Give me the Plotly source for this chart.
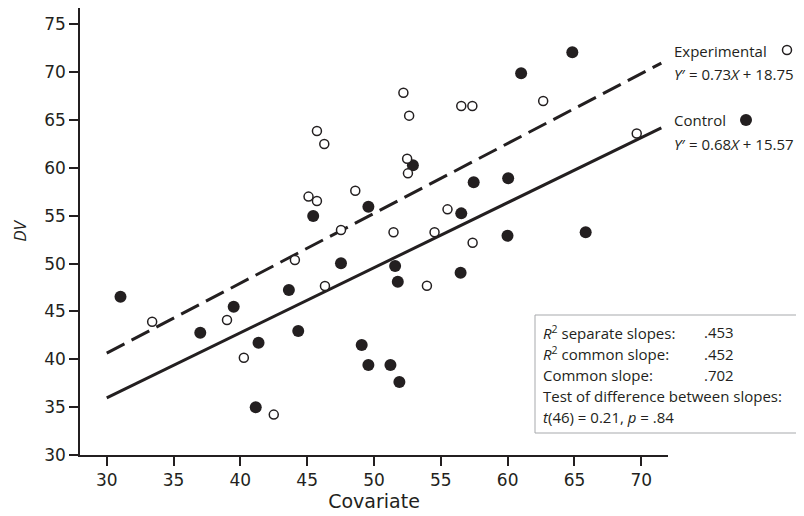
import plotly.graph_objects as go

# ---- data ----
exp_x = [45.73, 46.28, 45.10, 45.73, 44.08, 52.20, 52.63, 56.53, 57.36, 62.66,
         69.66, 52.48, 52.54, 48.60, 55.50, 47.53, 51.46, 54.53, 57.38, 46.33,
         33.40, 39.00, 40.26, 42.50, 53.96]
exp_y = [63.86, 62.50, 57.00, 56.54, 50.38, 67.86, 65.46, 66.47, 66.47, 66.99,
         63.60, 60.96, 59.43, 57.62, 55.67, 53.51, 53.27, 53.27, 52.18, 47.66,
         43.93, 44.10, 40.17, 34.22, 47.69]

ctl_x = [31.03, 45.45, 64.84, 61.01, 52.91, 57.46, 60.04, 49.58, 56.53, 59.99,
         65.84, 47.53, 51.58, 43.63, 39.50, 37.00, 44.33, 41.36, 41.15, 51.78,
         56.48, 49.08, 49.58, 51.23, 51.90]
ctl_y = [46.54, 54.97, 72.08, 69.88, 60.27, 58.50, 58.91, 55.95, 55.25, 52.92,
         53.27, 50.03, 49.75, 47.24, 45.50, 42.78, 42.96, 41.74, 34.98, 48.11,
         49.05, 41.49, 39.40, 39.40, 37.63]

# regression line end points
line_x = [30.0, 71.5]
exp_line_y = [40.65, 70.95]
ctl_line_y = [35.97, 64.19]

x_ticks = [30, 35, 40, 45, 50, 55, 60, 65, 70]
y_ticks = [30, 35, 40, 45, 50, 55, 60, 65, 70, 75]

stats_labels = ["<i>R</i><sup>2</sup> separate slopes:",
                "<i>R</i><sup>2</sup> common slope:",
                "Common slope:"]
stats_values = [".453", ".452", ".702"]
stats_extra = ["Test of difference between slopes:",
               "<i>t</i>(46) = 0.21, <i>p</i> = .84"]

INK = "#231f20"
TXT_FONT = "Open Sans"

fig = go.Figure()
fig.add_trace(go.Scatter(x=line_x, y=exp_line_y, mode="lines",
                         line=dict(color=INK, width=3, dash="20px,8px"),
                         hoverinfo="skip", showlegend=False))
fig.add_trace(go.Scatter(x=line_x, y=ctl_line_y, mode="lines",
                         line=dict(color=INK, width=3),
                         hoverinfo="skip", showlegend=False))
fig.add_trace(go.Scatter(x=ctl_x, y=ctl_y, mode="markers", name="Control",
                         marker=dict(size=12, color=INK, line=dict(width=0)),
                         showlegend=False))
fig.add_trace(go.Scatter(x=exp_x, y=exp_y, mode="markers", name="Experimental",
                         marker=dict(size=9, color="white",
                                     line=dict(width=1.5, color=INK)),
                         showlegend=False))

# page has an 8px body margin: figure is 796x508, plot area on page x 80..668, y 8..455
def px(xp):
    return (xp - 80) / 588.0

def py(yp):
    return (455 - yp) / 447.0

annotations = []

def add_text(text, xp, yp, size=15):
    annotations.append(dict(text=text, x=px(xp), y=py(yp), xref="paper", yref="paper",
                            xanchor="left", yanchor="middle", showarrow=False,
                            font=dict(family=TXT_FONT, size=size, color=INK)))

add_text("Experimental", 672, 51)
add_text("<i>Y</i>′ = 0.73<i>X</i> + 18.75", 672, 74)
add_text("Control", 672, 120)
add_text("<i>Y</i>′ = 0.68<i>X</i> + 15.57", 672, 144)

ys = [332, 353.5, 374.5, 395.5, 416.5]
for i, (lab, val) in enumerate(zip(stats_labels, stats_values)):
    add_text(lab, 541, ys[i])
    add_text(val, 702, ys[i])
for j, t in enumerate(stats_extra):
    add_text(t, 541, ys[3 + j])

shapes = [
    dict(type="rect", xref="paper", yref="paper", x0=px(535), x1=px(803),
         y0=py(433), y1=py(315), line=dict(color="#a7a9ac", width=1),
         fillcolor="rgba(0,0,0,0)", layer="above"),
    # legend symbols
    dict(type="circle", xref="paper", yref="paper", xsizemode="pixel", ysizemode="pixel",
         xanchor=px(787), yanchor=py(50), x0=-4.5, x1=4.5, y0=-4.5, y1=4.5,
         line=dict(color=INK, width=1.5), fillcolor="white"),
    dict(type="circle", xref="paper", yref="paper", xsizemode="pixel", ysizemode="pixel",
         xanchor=px(746), yanchor=py(120), x0=-6, x1=6, y0=-6, y1=6,
         line=dict(color=INK, width=0), fillcolor=INK),
]

axis_common = dict(showline=True, linecolor=INK, linewidth=1.5, ticks="outside",
                   ticklen=9, tickwidth=1.5, tickcolor=INK, showgrid=False,
                   zeroline=False, automargin=False,
                   tickfont=dict(family="DejaVu Sans", size=17, color=INK))

fig.update_layout(
    width=796, height=508,
    margin=dict(l=72, r=136, t=0, b=61),
    paper_bgcolor="white", plot_bgcolor="white",
    xaxis=dict(range=[28, 72], tickvals=x_ticks,
               title=dict(text="Covariate", standoff=3,
                          font=dict(family="DejaVu Sans", size=19, color=INK)),
               **axis_common),
    yaxis=dict(range=[30, 76.71], tickvals=y_ticks,
               title=dict(text="<i>DV</i>", standoff=16,
                          font=dict(family=TXT_FONT, size=17, color=INK)),
               **axis_common),
    annotations=annotations,
    shapes=shapes,
)

fig.write_html("out.html")
